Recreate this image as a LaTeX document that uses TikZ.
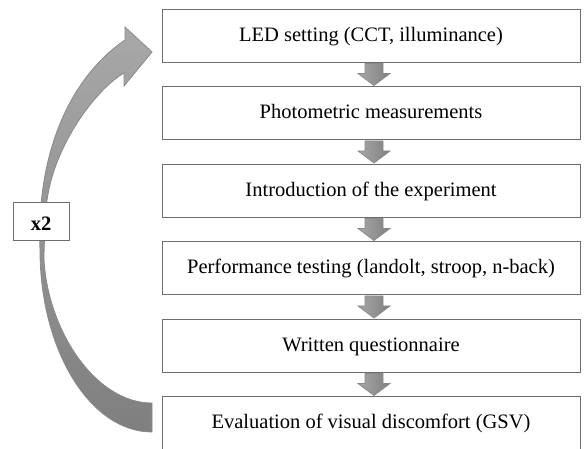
\documentclass[tikz,border=0pt]{standalone}
\usepackage{fontspec}
\setmainfont{Liberation Serif}
\usetikzlibrary{calc}
\definecolor{boxline}{HTML}{6E6E6E}
\definecolor{arrLight}{HTML}{A8A8A8}
\definecolor{arrDark}{HTML}{7F7F7F}
\definecolor{arrLine}{HTML}{8A8A8A}
\begin{document}
\begin{tikzpicture}[x=1pt,y=-1pt,
  stepbox/.style={draw=boxline, line width=0.9pt, fill=white,
    minimum width=418pt, minimum height=53pt, inner sep=0pt,
    text height=14pt, text depth=3pt, font=\fontsize{20.5}{24}\selectfont},
  countbox/.style={draw=boxline, line width=0.9pt, fill=white,
    minimum width=56pt, minimum height=38pt, inner sep=0pt,
    text height=18pt, text depth=0pt, font=\fontsize{20.5}{24}\selectfont\bfseries},
  arrowshade/.style={left color=arrLight, right color=arrDark, draw=arrLine, line width=0.8pt},
  blockdown/.pic={\shadedraw[arrowshade] (-9,1) -- (9,1) -- (9,11) -- (16,11) -- (0,23) -- (-16,11) -- (-9,11) -- cycle;}
]
\useasboundingbox (0,0) rectangle (584,448);

% curved return arrow
\shadedraw[top color=arrLight, bottom color=arrDark, draw=arrLine, line width=0.8pt]
  (152,432) .. controls (90,432) and (40,350) .. (40,250)
  .. controls (36,150) and (72,76) .. (125,40)
  -- (125,27) -- (152,52) -- (124,86) -- (124,73)
  .. controls (95,90) and (50,150) .. (46,210)
  .. controls (45,230) and (44,245) .. (44,260)
  .. controls (48,330) and (95,403) .. (152,403) -- cycle;

\node[stepbox] (b1) at (371,35.5) {LED setting (CCT, illuminance)};
\node[stepbox] (b2) at (371,113) {Photometric measurements};
\node[stepbox] (b3) at (371,190.5) {Introduction of the experiment};
\node[stepbox] (b4) at (371,268) {Performance testing (landolt, stroop, n-back)};
\node[stepbox] (b5) at (371,345.5) {Written questionnaire};
\node[stepbox] (b6) at (371,423) {Evaluation of visual discomfort (GSV)};

\node[countbox] (x2) at (41,221) {x2};

\foreach \b in {b1,b2,b3,b4,b5}{
  \pic at ($(\b.south)+(3,0)$) {blockdown};
}
\end{tikzpicture}
\end{document}
